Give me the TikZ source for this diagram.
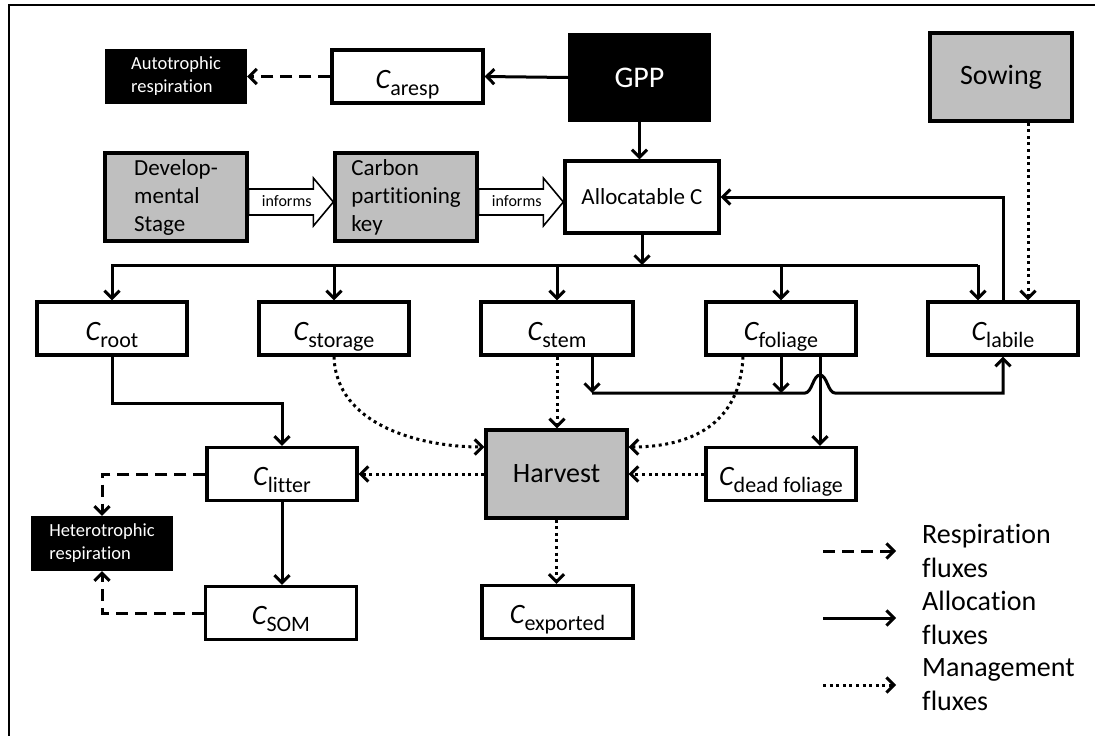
\documentclass[tikz,border=0pt]{standalone}
\usepackage{fontspec}
\setmainfont{Carlito}[Ligatures={NoCommon,NoContextual,NoRare,NoDiscretionary},Contextuals=NoAlternate]
\usetikzlibrary{arrows.meta,calc}
\definecolor{boxgray}{HTML}{BFBFBF}
\newcommand\Clab[1]{{\fontsize{28pt}{30pt}\selectfont\itshape C}\raisebox{-7pt}{\fontsize{22pt}{24pt}\selectfont #1}}
\begin{document}
\begin{tikzpicture}[x=1pt,y=-1pt,
  >={Straight Barb[length=7.5pt,width=15pt]},
  cbox/.style={draw, line width=3.3pt, fill=white, minimum width=150pt, minimum height=53pt, inner sep=0pt, text height=28pt, text depth=5pt},
  bbox/.style={fill=black, text=white, minimum width=142pt, minimum height=55pt, align=left, inner sep=0pt, font=\fontsize{18.5pt}{23pt}\selectfont},
  gbox/.style={draw, line width=3.3pt, fill=boxgray, minimum width=142pt, minimum height=88pt, inner sep=0pt},
  allocflux/.style={line width=3pt,->},
  respflux/.style={line width=3pt,->,dash pattern=on 12pt off 7pt},
  mgmtflux/.style={line width=3pt,->,dash pattern=on 3pt off 3.6pt},
  hollow/.style={draw, fill=white, line width=1.6pt, line join=miter},
  legtext/.style={anchor=west, align=left, inner sep=0pt, font=\fontsize{28pt}{34pt}\selectfont},
]
\useasboundingbox (0,0) rectangle (1095,736);
\draw[line width=2.2pt] (9,745) -- (9,5) -- (1100,5);

% top row
\node[bbox] (auto) at (176,76.5) {Autotrophic\\respira\kern0pt tion};
\node[cbox, minimum width=151pt] (caresp) at (407.5,76.5) {\Clab{aresp}};
\node[fill=black, text=white, minimum width=143pt, minimum height=89pt, inner sep=0pt, font=\fontsize{30pt}{34pt}\selectfont] (gpp) at (639.5,77.5) {GPP};
\node[gbox, font=\fontsize{28pt}{32pt}\selectfont] (sow) at (1001,77) {Sowing};

% second row
\node[gbox, align=left, font=\fontsize{23pt}{28pt}\selectfont] (dev) at (176,197) {Develop-\\mental\\Stage};
\node[gbox, align=left, font=\fontsize{23pt}{28pt}\selectfont] (cpk) at (406,197) {Carbon\\par\kern0pt ti\kern0pt tioning\\key};
\node[draw, line width=3.3pt, fill=white, minimum width=154pt, minimum height=72pt, inner sep=0pt, font=\fontsize{23pt}{28pt}\selectfont] (allocC) at (642,197) {Allocatable C};

% pools row
\node[cbox] (root) at (112,328.5) {\Clab{root}};
\node[cbox] (storage) at (334,328.5) {\Clab{storage}};
\node[cbox, minimum width=152pt] (stem) at (557,328.5) {\Clab{stem}};
\node[cbox] (foliage) at (781,328.5) {\Clab{foliage}};
\node[cbox] (labile) at (1003,328.5) {\Clab{labile}};

% lower part
\node[cbox] (litter) at (282,474) {\Clab{litter}};
\node[gbox, minimum width=141pt, font=\fontsize{28pt}{32pt}\selectfont] (harvest) at (556.5,474) {Harvest};
\node[cbox] (dead) at (781,474) {\Clab{dead foliage}};
\node[bbox] (hetero) at (102,543.5) {Heterotrophic\\respira\kern0pt tion};
\node[cbox, minimum width=151pt] (som) at (281,613) {\Clab{SOM}};
\node[cbox, minimum width=151pt] (exp) at (557.5,612) {\Clab{exported}};

% top connectors
\draw[allocflux] (gpp.west) -- (caresp.east);
\draw[respflux] (caresp.west) -- (auto.east);
\draw[allocflux] (gpp.south) -- (gpp.south |- allocC.north);

% hollow informs arrows
\draw[hollow] ($(dev.east)+(0,-8)$) -- ($(cpk.west)+(-20,-8)$) -- ($(cpk.west)+(-20,-19)$) -- ($(cpk.west)+(0,5)$) -- ($(cpk.west)+(-20,29)$) -- ($(cpk.west)+(-20,18)$) -- ($(dev.east)+(0,18)$) -- cycle;
\node[inner sep=0pt, font=\fontsize{16pt}{18pt}\selectfont] (inf1) at ($(dev.east)!0.45!(cpk.west)+(0,4)$) {informs};
\draw[hollow] ($(cpk.east)+(0,-8)$) -- ($(allocC.west)+(-20,-8)$) -- ($(allocC.west)+(-20,-19)$) -- ($(allocC.west)+(0,5)$) -- ($(allocC.west)+(-20,29)$) -- ($(allocC.west)+(-20,18)$) -- ($(cpk.east)+(0,18)$) -- cycle;
\node[inner sep=0pt, font=\fontsize{16pt}{18pt}\selectfont] (inf2) at ($(cpk.east)!0.45!(allocC.west)+(0,4)$) {informs};

% labile back to allocatable, sowing to labile
\draw[allocflux] (labile.north) |- (allocC.east);
\coordinate (sowout) at ($(sow.south)+(27,0)$);
\coordinate (sowin) at ($(labile.north)+(25,0)$);
\draw[mgmtflux] (sowout) -- (sowin);

% distribution
\coordinate (d0) at (111,265);
\coordinate (labin) at ($(labile.north)+(-25,0)$);
\draw[allocflux] (allocC.south) -- (allocC.south |- d0);
\draw[line width=3pt] (d0) -- (labin |- d0);
\draw[allocflux] (root.north |- d0) -- (root.north);
\draw[allocflux] (storage.north |- d0) -- (storage.north);
\draw[allocflux] (stem.north |- d0) -- (stem.north);
\draw[allocflux] (foliage.north |- d0) -- (foliage.north);
\draw[allocflux] (labin |- d0) -- (labin);

% stem / foliage to labile with hop
\coordinate (j1) at (592,393);
\coordinate (sd) at ($(stem.south)+(35,0)$);
\coordinate (fd) at ($(foliage.south)+(39,0)$);
\draw[allocflux] (sd) -- (sd |- j1);
\draw[allocflux] (foliage.south) -- (foliage.south |- j1);
\draw[allocflux] (j1) -- (805,393) .. controls (812,393) and (813,375) .. (820,375) .. controls (827,375) and (828,393) .. (835,393) -- (labile.south |- j1) -- (labile.south);
\draw[allocflux] (fd) -- (fd |- dead.north);

% root to litter
\draw[allocflux] (root.south) -- ++(0,47) -| (litter.north);

% management to harvest
\coordinate (fs) at ($(foliage.south)+(-38,0)$);
\draw[mgmtflux] (storage.south) .. controls (336,425) and (420,447) .. ($(harvest.west)+(0,-27)$);
\draw[mgmtflux] (stem.south) -- (stem.south |- harvest.north);
\draw[mgmtflux] (fs) .. controls (740,425) and (690,447) .. ($(harvest.east)+(0,-27)$);
\draw[mgmtflux] (harvest.west) -- (litter.east);
\draw[mgmtflux] (dead.west) -- (harvest.east);
\draw[mgmtflux] (harvest.south) -- (harvest.south |- exp.north);

% litter, SOM, heterotrophic
\draw[allocflux] (litter.south) -- (litter.south |- som.north);
\draw[respflux] (litter.west) -| (hetero.north);
\draw[respflux] (som.west) -| (hetero.south);

% legend
\coordinate (la1) at (823,551); \coordinate (lb1) at (896,551);
\coordinate (la2) at (823,618); \coordinate (lb2) at (896,618);
\coordinate (la3) at (823,685); \coordinate (lb3) at (896,685);
\draw[respflux] (la1) -- (lb1);
\draw[allocflux] (la2) -- (lb2);
\draw[mgmtflux] (la3) -- (lb3);
\node[legtext] (lt1) at (922,551) {Respira\kern0pt tion\\fluxes};
\node[legtext] (lt2) at (922,618) {Alloca\kern0pt tion\\fluxes};
\node[legtext] (lt3) at (922,685) {Management\\fluxes};
\end{tikzpicture}
\end{document}
